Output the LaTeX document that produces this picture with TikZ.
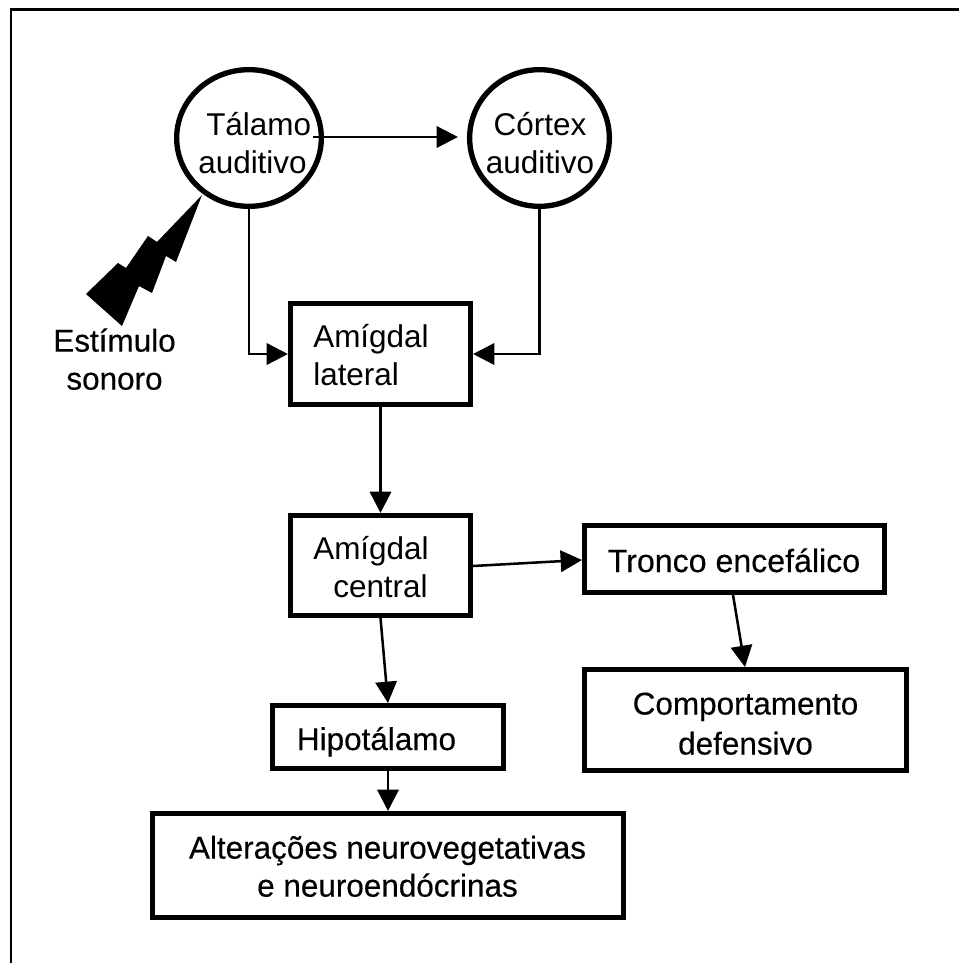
\documentclass[tikz,border=0pt]{standalone}
\usepackage{fontspec}
\setmainfont{Liberation Sans}
\newfontfamily\heavyfont[FakeBold=0.35]{Liberation Sans}
\usetikzlibrary{arrows.meta,calc,shapes.geometric}
\tikzset{
  x=0.75pt,y=-0.75pt,
  thickbox/.style={draw=black,line width=4pt,rectangle,inner sep=0pt},
  circ/.style={draw=black,line width=4pt,ellipse,inner sep=0pt},
  link/.style={draw=black,line width=1.9pt,-{Triangle[length=16pt,width=16pt]}},
  lab/.style={font=\fontsize{23.6pt}{28.5pt}\selectfont,align=center,inner sep=0pt,text=black},
  llab/.style={lab,align=left,anchor=west},
  hlab/.style={lab,font=\fontsize{23.6pt}{28.5pt}\selectfont\heavyfont},
}
\begin{document}
\begin{tikzpicture}
\useasboundingbox (0,0) rectangle (959,963);
\fill[white] (0,0) rectangle (959,963);
% frame: only left and top sides fall on the page
\draw[black,line width=1.6pt] (11,963) -- (11,9.5) -- (959,9.5);
% circles
\node[circ,minimum width=108.5pt,minimum height=102.5pt] (talamo) at (249,138) {};
\node[circ,minimum width=104.8pt,minimum height=102.5pt] (cortex) at (539.5,138) {};
% boxes
\node[thickbox,minimum width=134.8pt,minimum height=75.5pt] (lateral) at (380.5,354) {};
\node[thickbox,minimum width=134.8pt,minimum height=74.8pt] (central) at (380.5,565.5) {};
\node[thickbox,minimum width=224.8pt,minimum height=50pt] (tronco) at (734.5,559) {};
\node[thickbox,minimum width=241.3pt,minimum height=75.5pt] (comport) at (745.5,720) {};
\node[thickbox,minimum width=173pt,minimum height=47pt] (hipo) at (388,737) {};
\node[thickbox,minimum width=353pt,minimum height=77.8pt] (alter) at (388,865.5) {};
% labels
\node[llab] (t1) at (198,147.4) {\hspace*{6pt}\strut Tálamo\\\strut auditivo};
\node[lab] (t2) at (540,147.4) {\strut Córtex\\\strut auditivo};
\node[llab] (t3) at (313,358.9) {\strut Amígdal\\\strut lateral};
\node[llab] (t4) at (313,570.9) {\strut Amígdal\\\hspace*{15pt}\strut central};
\node[hlab,font=\fontsize{24.1pt}{28.5pt}\selectfont\heavyfont] (t5) at (734,564.4) {\strut Tronco encefálico};
\node[hlab,font=\fontsize{23.6pt}{30pt}\selectfont\heavyfont] (t6) at (745.5,726.5) {\strut Comportamento\\\strut defensivo};
\node[hlab] (t7) at (376.5,742.4) {\strut Hipotálamo};
\node[hlab] (t8) at (387.5,870) {\strut Alterações neurovegetativas\\\strut e neuroendócrinas};
\node[hlab] (t9) at (114.5,363) {\strut Estímulo\\\strut sonoro};
% bolt
\fill[black] (202,195) -- (176,262) -- (166,256) -- (152,293) -- (139,286) -- (122,326) -- (86,294) -- (118,263) -- (126,268) -- (148,236) -- (157,242) -- cycle;
% connectors
\draw[link] ($(talamo.east)+(-11,-1)$) -- ($(cortex.west)+(-9,-1)$);
\draw[link] (talamo.south) -- (talamo.south |- lateral.west) -- (lateral.west);
\draw[link] (cortex.south) -- (cortex.south |- lateral.east) -- (lateral.east);
\draw[link] (lateral.south) -- (central.north);
\draw[link] ($(central.east)+(0,0.5)$) -- ($(tronco.west)+(0,1)$);
\draw[link] ($(tronco.south)+(-1.5,0)$) -- ($(comport.north)+(-0.5,0)$);
\draw[link] (central.south) -- (hipo.north);
\draw[link] (hipo.south) -- (alter.north);
\end{tikzpicture}
\end{document}
